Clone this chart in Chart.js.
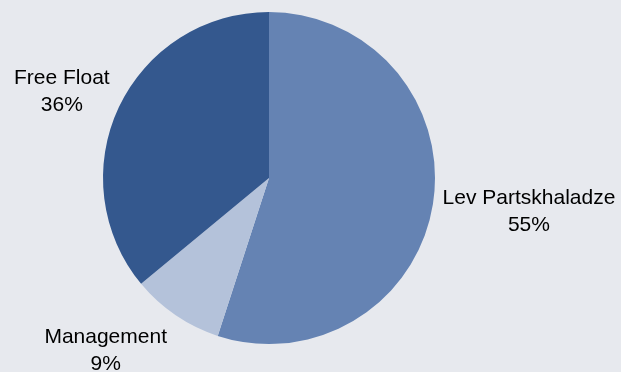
<!DOCTYPE html>
<html>
<head>
<meta charset="utf-8">
<script src="https://cdn.jsdelivr.net/npm/chart.js@4/dist/chart.umd.min.js"></script>
<style>
    html, body { margin: 0; padding: 0; background: #e7e9ee; }
    #wrap { width: 621px; height: 372px; position: relative; }
</style>
</head>
<body>
<div id="wrap"><canvas id="myChart" width="621" height="372"></canvas></div>
<script>
const labels = ['Lev Partskhaladze', 'Management', 'Free Float'];
const shares = [55, 9, 36];
const pctLabels = ['55%', '9%', '36%'];

const colors = ['#6583b3', '#b4c2da', '#34588e'];
// label shift from the slice's outer mid point (first line baseline)
const labelShift = [[96, 0], [-70, 28], [-57, -23]];

const outsideLabels = {
    id: 'outsideLabels',
    afterDatasetsDraw(chart) {
        const ctx = chart.ctx;
        const meta = chart.getDatasetMeta(0);
        ctx.save();
        ctx.font = '21px "Liberation Sans", Arial, sans-serif';
        ctx.fillStyle = '#000';
        ctx.textAlign = 'center';
        ctx.textBaseline = 'alphabetic';
        meta.data.forEach((arc, i) => {
            const p = arc.getProps(['x', 'y', 'startAngle', 'endAngle', 'outerRadius'], true);
            const m = (p.startAngle + p.endAngle) / 2;
            const x = p.x + p.outerRadius * Math.cos(m) + labelShift[i][0];
            const y = p.y + p.outerRadius * Math.sin(m) + labelShift[i][1];
            ctx.fillText(labels[i], x, y);
            ctx.fillText(pctLabels[i], x, y + 27);
        });
        ctx.restore();
    }
};

new Chart(document.getElementById('myChart').getContext('2d'), {
    type: 'pie',
    data: {
        labels: labels,
        datasets: [{
            data: shares,
            backgroundColor: colors,
            borderWidth: 0
        }]
    },
    options: {
        responsive: false,
        animation: { duration: 0 },
        layout: { padding: { left: 103, right: 186, top: 12, bottom: 28 } },
        plugins: {
            legend: { display: false },
            tooltip: { enabled: false }
        }
    },
    plugins: [outsideLabels]
});
</script>
</body>
</html>
